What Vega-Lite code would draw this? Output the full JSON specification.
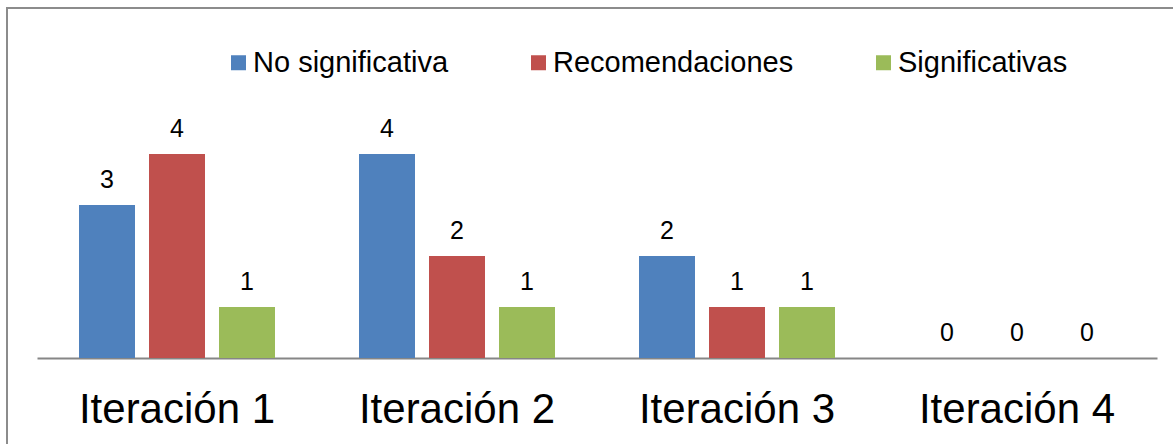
{
  "$schema": "https://vega.github.io/schema/vega-lite/v6.json",
  "autosize": "none",
  "padding": {"left": 7, "top": 8, "right": -4, "bottom": -4},
  "width": 1170,
  "height": 440,
  "background": "white",
  "config": {
    "view": {"stroke": "#8c8c8c", "strokeWidth": 2},
    "font": "Liberation Sans",
    "text": {"font": "Liberation Sans"}
  },
  "data": {
    "values": [
      {"iteracion": "Iteración 1", "serie": "No significativa", "valor": 3},
      {"iteracion": "Iteración 1", "serie": "Recomendaciones", "valor": 4},
      {"iteracion": "Iteración 1", "serie": "Significativas", "valor": 1},
      {"iteracion": "Iteración 2", "serie": "No significativa", "valor": 4},
      {"iteracion": "Iteración 2", "serie": "Recomendaciones", "valor": 2},
      {"iteracion": "Iteración 2", "serie": "Significativas", "valor": 1},
      {"iteracion": "Iteración 3", "serie": "No significativa", "valor": 2},
      {"iteracion": "Iteración 3", "serie": "Recomendaciones", "valor": 1},
      {"iteracion": "Iteración 3", "serie": "Significativas", "valor": 1},
      {"iteracion": "Iteración 4", "serie": "No significativa", "valor": 0},
      {"iteracion": "Iteración 4", "serie": "Recomendaciones", "valor": 0},
      {"iteracion": "Iteración 4", "serie": "Significativas", "valor": 0}
    ]
  },
  "encoding": {
    "x": {
      "field": "iteracion",
      "type": "nominal",
      "sort": null,
      "scale": {"range": [30, 1150], "paddingInner": 0, "paddingOuter": 0},
      "axis": {
        "title": null,
        "offset": -90,
        "labelAngle": 0,
        "ticks": false,
        "tickSize": 0,
        "labelPadding": 64,
        "labelBaseline": "alphabetic",
        "labelFont": "Liberation Sans",
        "labelFontSize": 42,
        "labelLimit": 600,
        "labelColor": "#000000",
        "domainColor": "#868686",
        "domainWidth": 2,
        "grid": false
      }
    },
    "xOffset": {
      "field": "serie",
      "type": "nominal",
      "sort": ["No significativa", "Recomendaciones", "Significativas"],
      "scale": {"paddingInner": 0.2, "paddingOuter": 0.6}
    },
    "y": {
      "field": "valor",
      "type": "quantitative",
      "scale": {"domain": [0, 6], "range": [350, 44]},
      "axis": null
    }
  },
  "layer": [
    {
      "mark": {"type": "bar"},
      "encoding": {
        "color": {
          "field": "serie",
          "type": "nominal",
          "sort": ["No significativa", "Recomendaciones", "Significativas"],
          "scale": {
            "domain": ["No significativa", "Recomendaciones", "Significativas"],
            "range": ["#4F81BD", "#C0504D", "#9BBB59"]
          },
          "legend": {
            "title": null,
            "orient": "none",
            "legendX": 217,
            "legendY": 40,
            "direction": "horizontal",
            "symbolType": "square",
            "symbolSize": 225,
            "symbolStrokeWidth": 0,
            "labelFont": "Liberation Sans",
            "labelFontSize": 29,
            "labelColor": "#000000",
            "labelOffset": 0,
            "columnPadding": 75,
            "labelLimit": 400
          }
        }
      }
    },
    {
      "mark": {"type": "text", "dy": -17, "baseline": "alphabetic", "fontSize": 25, "color": "#000000", "font": "Liberation Sans"},
      "encoding": {"text": {"field": "valor", "type": "quantitative"}}
    }
  ]
}
